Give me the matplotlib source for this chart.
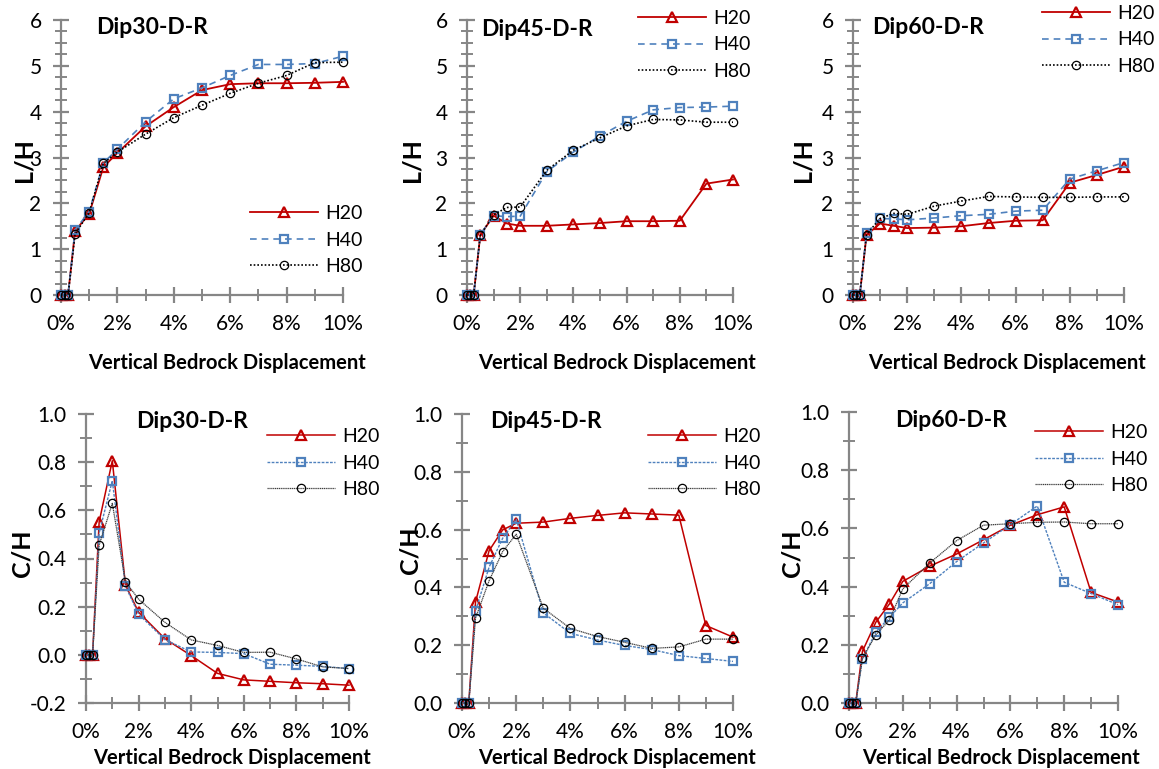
import matplotlib
matplotlib.use("Agg")
import matplotlib.pyplot as plt
from matplotlib.ticker import MultipleLocator, FuncFormatter

plt.rcParams['font.family'] = ['Lato', 'DejaVu Sans']

# Vertical bedrock displacement (%)
disp = [0, 0.125, 0.25, 0.5, 1, 1.5, 2, 3, 4, 5, 6, 7, 8, 9, 10]
series_names = ["H20", "H40", "H80"]

# L/H, dip 30
lh30_h20 = [0, 0, 0, 1.40, 1.77, 2.79, 3.10, 3.68, 4.10, 4.47, 4.60, 4.62, 4.62, 4.63, 4.65]
lh30_h40 = [0, 0, 0, 1.42, 1.82, 2.88, 3.18, 3.78, 4.28, 4.52, 4.79, 5.03, 5.03, 5.05, 5.21]
lh30_h80 = [0, 0, 0, 1.33, 1.80, 2.87, 3.12, 3.51, 3.87, 4.14, 4.40, 4.62, 4.79, 5.07, 5.08]

# L/H, dip 45
lh45_h20 = [0, 0, 0, 1.31, 1.73, 1.56, 1.51, 1.51, 1.54, 1.57, 1.61, 1.61, 1.62, 2.43, 2.52]
lh45_h40 = [0, 0, 0, 1.32, 1.73, 1.71, 1.72, 2.69, 3.12, 3.47, 3.79, 4.04, 4.09, 4.10, 4.12]
lh45_h80 = [0, 0, 0, 1.30, 1.75, 1.91, 1.92, 2.72, 3.16, 3.43, 3.69, 3.83, 3.82, 3.77, 3.77]

# L/H, dip 60
lh60_h20 = [0, 0, 0, 1.31, 1.56, 1.51, 1.46, 1.47, 1.50, 1.57, 1.62, 1.63, 2.45, 2.62, 2.80]
lh60_h40 = [0, 0, 0, 1.35, 1.67, 1.66, 1.64, 1.68, 1.73, 1.76, 1.83, 1.85, 2.53, 2.71, 2.89]
lh60_h80 = [0, 0, 0, 1.32, 1.67, 1.78, 1.76, 1.94, 2.05, 2.15, 2.14, 2.13, 2.13, 2.14, 2.14]

# C/H, dip 30
ch30_h20 = [0, 0, 0, 0.552, 0.806, 0.290, 0.177, 0.067, -0.003, -0.077, -0.104, -0.110, -0.116, -0.120, -0.126]
ch30_h40 = [0, 0, 0, 0.506, 0.723, 0.285, 0.169, 0.063, 0.012, 0.010, 0.005, -0.039, -0.043, -0.048, -0.057]
ch30_h80 = [0, 0, 0, 0.456, 0.629, 0.304, 0.231, 0.135, 0.062, 0.039, 0.010, 0.011, -0.017, -0.050, -0.057]

# C/H, dip 45
ch45_h20 = [0, 0, 0, 0.350, 0.527, 0.599, 0.622, 0.626, 0.639, 0.649, 0.658, 0.654, 0.650, 0.268, 0.228]
ch45_h40 = [0, 0, 0, 0.319, 0.470, 0.570, 0.636, 0.312, 0.241, 0.218, 0.199, 0.185, 0.164, 0.154, 0.144]
ch45_h80 = [0, 0, 0, 0.294, 0.423, 0.524, 0.584, 0.328, 0.258, 0.230, 0.210, 0.189, 0.194, 0.221, 0.221]

# C/H, dip 60
ch60_h20 = [0, 0, 0, 0.178, 0.278, 0.340, 0.418, 0.470, 0.512, 0.561, 0.611, 0.647, 0.674, 0.380, 0.347]
ch60_h40 = [0, 0, 0, 0.152, 0.244, 0.294, 0.344, 0.410, 0.486, 0.550, 0.613, 0.677, 0.415, 0.376, 0.338]
ch60_h80 = [0, 0, 0, 0.153, 0.235, 0.285, 0.392, 0.481, 0.558, 0.611, 0.616, 0.621, 0.622, 0.616, 0.616]

W, H = 1159, 769
fig = plt.figure(figsize=(W / 100, H / 100), dpi=100)

RED = "#C00000"
BLUE = "#4F81BD"
AXIS_GRAY = "#868686"


def px_axes(left, right, top, bottom):
    return fig.add_axes([left / W, 1 - bottom / H, (right - left) / W, (bottom - top) / H])


def fx(x):
    return x / W


def fy(y):
    return 1 - y / H


top_styles = [
    dict(color=RED, ls="-", lw=1.3, marker="^", mec=RED, mew=1.6, ms=6.5),
    dict(color=BLUE, ls=(0, (4, 3)), lw=1.2, marker="s", mec=BLUE, mew=1.6, ms=6),
    dict(color="black", ls=(0, (1, 1.2)), lw=1.2, marker="o", mec="black", mew=0.9, ms=6),
]
bottom_styles = [
    dict(color=RED, ls="-", lw=1.1, marker="^", mec=RED, mew=1.6, ms=6.5),
    dict(color=BLUE, ls=(0, (2, 1)), lw=1.0, marker="s", mec=BLUE, mew=1.6, ms=6),
    dict(color="#404040", ls=(0, (1, 0.5)), lw=0.9, marker="o", mec="black", mew=0.9, ms=6),
]

panels = [
    dict(box=(61, 343, 20, 295), ylim=(0, 6), major=1, minor=0.25,
         data=[lh30_h20, lh30_h40, lh30_h80], title="Dip30-D-R", tpos=(152, 28),
         ylabel="L/H", ypos=(24, 160), xpos=(227, 363), leg=(250, 240), styles=top_styles, fmt="{:.0f}"),
    dict(box=(467, 733, 20, 295), ylim=(0, 6), major=1, minor=0.25,
         data=[lh45_h20, lh45_h40, lh45_h80], title="Dip45-D-R", tpos=(537, 30),
         ylabel="L/H", ypos=(412, 160), xpos=(617, 363), leg=(638, 45), styles=top_styles, fmt="{:.0f}"),
    dict(box=(853, 1124, 20, 295), ylim=(0, 6), major=1, minor=0.25,
         data=[lh60_h20, lh60_h40, lh60_h80], title="Dip60-D-R", tpos=(928, 28),
         ylabel="L/H", ypos=(803, 160), xpos=(1007, 363), leg=(1042, 40), styles=top_styles, fmt="{:.0f}"),
    dict(box=(86, 349, 414, 703), ylim=(-0.2, 1.0), major=0.2, minor=0.1,
         data=[ch30_h20, ch30_h40, ch30_h80], title="Dip30-D-R", tpos=(192, 422),
         ylabel="C/H", ypos=(22, 553), xpos=(232, 758), leg=(267, 463), styles=bottom_styles, fmt="{:.1f}"),
    dict(box=(462, 733, 414, 703), ylim=(0, 1.0), major=0.2, minor=0.1,
         data=[ch45_h20, ch45_h40, ch45_h80], title="Dip45-D-R", tpos=(546, 422),
         ylabel="C/H", ypos=(410, 550), xpos=(617, 758), leg=(648, 463), styles=bottom_styles, fmt="{:.1f}"),
    dict(box=(849, 1118, 412, 703), ylim=(0, 1.0), major=0.2, minor=0.1,
         data=[ch60_h20, ch60_h40, ch60_h80], title="Dip60-D-R", tpos=(951, 420),
         ylabel="C/H", ypos=(792, 553), xpos=(1001, 758), leg=(1035, 459), styles=bottom_styles, fmt="{:.1f}"),
]

for p in panels:
    ax = px_axes(*p["box"])
    ax.set_xlim(0, 10)
    ax.set_ylim(*p["ylim"])
    ax.patch.set_alpha(0)
    for s in ("top", "right"):
        ax.spines[s].set_visible(False)
    for s in ("left", "bottom"):
        ax.spines[s].set_color(AXIS_GRAY)
        ax.spines[s].set_linewidth(1.6)
        ax.spines[s].set_zorder(1)
    ax.xaxis.set_major_locator(MultipleLocator(2))
    ax.xaxis.set_minor_locator(MultipleLocator(1))
    ax.yaxis.set_major_locator(MultipleLocator(p["major"]))
    ax.yaxis.set_minor_locator(MultipleLocator(p["minor"]))
    ax.xaxis.set_major_formatter(FuncFormatter(lambda v, _: f"{v:.0f}%"))
    fmt = p["fmt"]
    ax.yaxis.set_major_formatter(FuncFormatter(lambda v, _, f=fmt: f.format(v + 0.0)))
    ax.tick_params(which="major", direction="inout", length=12, width=1.6, color=AXIS_GRAY,
                   labelsize=15, labelcolor="black")
    ax.tick_params(which="minor", direction="inout", length=8, width=1.4, color=AXIS_GRAY)
    ax.tick_params(axis="x", which="major", pad=8)
    ax.tick_params(axis="y", which="major", pad=8)

    handles = []
    for vals, name, st in zip(p["data"], series_names, p["styles"]):
        (ln,) = ax.plot(disp, vals, label=name, mfc="none", clip_on=False, zorder=3, **st)
        handles.append(ln)

    fig.text(fx(p["tpos"][0]), fy(p["tpos"][1]), p["title"], ha="center", va="center",
             fontsize=16.5, fontweight="bold")
    fig.text(fx(p["ypos"][0]), fy(p["ypos"][1]), p["ylabel"], ha="center", va="center",
             rotation=90, fontsize=18, fontweight="bold")
    fig.text(fx(p["xpos"][0]), fy(p["xpos"][1]), "Vertical Bedrock Displacement", ha="center",
             va="center", fontsize=14.5, fontweight="bold")

    fig.legend(handles=handles, loc="center left",
               bbox_to_anchor=(fx(p["leg"][0]), fy(p["leg"][1])),
               frameon=False, fontsize=14, handlelength=3.5, handletextpad=0.35,
               labelspacing=0.5, borderpad=0, borderaxespad=0)

fig.savefig("out.png", dpi=100)
